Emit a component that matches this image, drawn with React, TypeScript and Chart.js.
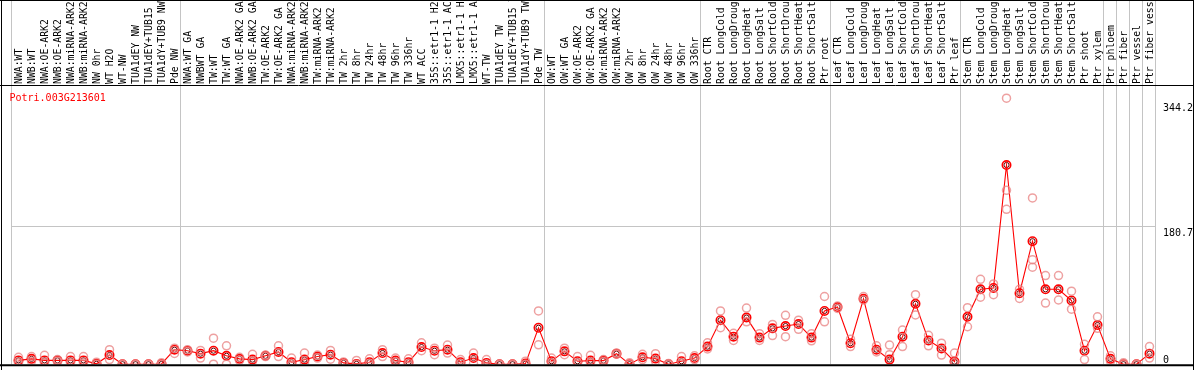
import React, { useEffect, useRef } from 'react';
import { Chart, registerables } from 'chart.js';

Chart.register(...registerables);

const title = 'Potri.003G213601';

const categories = [
  'NWA:WT', 'NWB:WT', 'NWA:OE-ARK2', 'NWB:OE-ARK2', 'NWA:miRNA-ARK2', 'NWB:miRNA-ARK2', 'NW 0hr', 'WT H2O', 'WT-NW',
  'TUA1dEY NW', 'TUA1dEY+TUB15 NW', 'TUA1dY+TUB9 NW', 'Pde NW',
  'NWA:WT GA', 'NWBWT GA', 'TW:WT', 'TW:WT GA', 'NWA:OE-ARK2 GA', 'NWB:OE-ARK2 GA', 'TW:OE-ARK2', 'TW:OE-ARK2 GA',
  'NWA:miRNA-ARK2 GA', 'NWB:miRNA-ARK2 GA', 'TW:miRNA-ARK2', 'TW:miRNA-ARK2', 'TW 2hr', 'TW 8hr', 'TW 24hr', 'TW 48hr',
  'TW 96hr', 'TW 336hr', 'WT ACC', '35S::etr1-1 H2O', '35S::etr1-1 ACC', 'LMX5::etr1-1 H2O', 'LMX5::etr1-1 ACC',
  'WT-TW', 'TUA1dEY TW', 'TUA1dEY+TUB15 TW', 'TUA1dY+TUB9 TW', 'Pde TW',
  'OW:WT', 'OW:WT GA', 'OW:OE-ARK2', 'OW:OE-ARK2 GA', 'OW:miRNA-ARK2', 'OW:miRNA-ARK2', 'OW 2hr', 'OW 8hr', 'OW 24hr',
  'OW 48hr', 'OW 96hr', 'OW 336hr',
  'Root CTR', 'Root LongCold', 'Root LongDrought', 'Root LongHeat', 'Root LongSalt', 'Root ShortCold', 'Root ShortDrought',
  'Root ShortHeat', 'Root ShortSalt', 'Ptr root',
  'Leaf CTR', 'Leaf LongCold', 'Leaf LongDrought', 'Leaf LongHeat', 'Leaf LongSalt', 'Leaf ShortCold', 'Leaf ShortDrought',
  'Leaf ShortHeat', 'Leaf ShortSalt', 'Ptr leaf',
  'Stem CTR', 'Stem LongCold', 'Stem LongDrought', 'Stem LongHeat', 'Stem LongSalt', 'Stem ShortCold', 'Stem ShortDrought',
  'Stem ShortHeat', 'Stem ShortSalt', 'Ptr shoot', 'Ptr xylem',
  'Ptr phloem', 'Ptr fiber', 'Ptr vessel', 'Ptr fiber vessel',
];

const meanValues = [
  5, 7, 5, 5, 5, 5, 0.5, 12, 0, 0, 0, 0.3, 19,
  17.7, 13.8, 17.7, 11, 7, 6, 11, 16, 2.6, 6, 10, 12.5, 1.7, 0.4, 2.6, 14.6, 4.7, 2.6, 22.4, 17.6, 19, 2.6, 8, 1.7, 0, 0, 0.8, 47.7,
  3.9, 16.8, 3.9, 4.7, 4.7, 13.8, 0, 9, 7.3, 0, 3.9, 8,
  23, 57.6, 36, 61, 34.8, 46.9, 49.9, 52.5, 34.8, 69.7,
  74.8, 27.5, 85.6, 19, 6, 36, 79, 31, 20.6, 3.4,
  62, 98, 99.8, 260.6, 92.9, 160.9, 98, 98, 83.4, 17.6, 51.2,
  7, 0, 0, 13.8,
];

const replicateA = [
  9, 10, 11.6, 6, 10, 10, 2.6, 19, 0, 0, 0, 2, 21,
  19, 18, 34, 24, 9, 13, 12, 24, 8, 14.6, 12, 18, 3, 5, 7, 19, 8, 7, 28, 21, 25, 6, 14.6, 6, 0, 0, 4, 69.7,
  8, 21, 10, 11.6, 6, 14.6, 2, 13, 13.8, 1, 10, 11,
  28, 69.7, 40.4, 73.5, 40, 52, 64, 57.6, 40, 88.6,
  76, 32.7, 88.6, 24, 25, 44.7, 91, 37.8, 27.5, 14.6,
  74, 111, 105, 348, 98, 217.6, 116, 116, 95.5, 26, 62,
  11, 2, 0, 23,
];

const replicateB = [
  2, 4, 2, 4, 2, 2, 0, 6, 0, 0, 0, 0, 14,
  16, 8, 0, 0, 5, 4, 10, 10, 0.5, 2, 8, 6.5, 0.5, 0, 1, 10, 3, 1, 17.6, 12.5, 14.6, 1, 0.5, 0, 0, 0, 0, 25.3,
  2, 12.5, 2, 2, 3, 13, 0, 6, 4, 0, 2, 6,
  20, 47.7, 31, 55.5, 31, 37.4, 36, 45.6, 30.6, 55.5,
  73, 23, 84, 16, 12.5, 23, 64.5, 24, 12, 2,
  49, 87.7, 91, 227.5, 86, 136.8, 80, 84, 72, 6, 47,
  4, 0, 0, 8,
];

const replicateC = categories.map((_, i) => (i === 76 ? 202.6 : i === 78 ? 127 : null));

const groupBoundaries = [0, 13, 41, 53, 63, 73, 84, 85, 86, 87, 88];
const yTickValues = [0, 180.7, 344.2];
const yTickLabels = ['0', '180.7', '344.2'];
const gridValues = [180.7];
const yMax = 364;

const MONO = '"DejaVu Sans Mono", "Liberation Mono", monospace';

const decorPlugin = {
  id: 'decor',
  beforeDatasetsDraw(chart: any) {
    const { ctx, chartArea, scales } = chart;
    const xs = scales.x;
    const ys = scales.y;
    ctx.save();
    // group separators
    ctx.strokeStyle = '#c4c4c4';
    ctx.lineWidth = 1;
    groupBoundaries.forEach((b: number) => {
      let x: number;
      if (b === 0) x = chartArea.left;
      else if (b >= categories.length) x = chartArea.right;
      else x = (xs.getPixelForValue(b - 1) + xs.getPixelForValue(b)) / 2;
      x = Math.round(x) - 0.5;
      ctx.beginPath();
      ctx.moveTo(x, 0);
      ctx.lineTo(x, chartArea.bottom);
      ctx.stroke();
    });
    // horizontal grid
    gridValues.forEach((v: number) => {
      const y = Math.round(ys.getPixelForValue(v)) + 0.5;
      ctx.beginPath();
      ctx.moveTo(chartArea.left, y);
      ctx.lineTo(chartArea.right, y);
      ctx.stroke();
    });
    // category labels
    ctx.fillStyle = '#000';
    ctx.font = '9.8px ' + MONO;
    ctx.textAlign = 'left';
    ctx.textBaseline = 'middle';
    categories.forEach((c: string, i: number) => {
      const x = xs.getPixelForValue(i) + 1;
      ctx.save();
      ctx.translate(x, 84);
      ctx.rotate(-Math.PI / 2);
      ctx.fillText(c, 0, 0);
      ctx.restore();
    });
    // y tick labels
    ctx.font = '10px ' + MONO;
    yTickValues.forEach((v: number, k: number) => {
      const y = ys.getPixelForValue(v);
      const ty = v === 0 ? y - 4 : y + 7;
      ctx.fillText(yTickLabels[k], chartArea.right + 7, ty);
    });
    // title
    ctx.fillStyle = '#ff0000';
    ctx.font = '10px ' + MONO;
    ctx.fillText(title, 9.5, 98);
    ctx.restore();
  },
  afterDatasetsDraw(chart: any) {
    const { ctx, chartArea } = chart;
    const W = chart.width;
    const H = chart.height;
    ctx.save();
    ctx.strokeStyle = '#000';
    ctx.lineWidth = 1;
    ctx.beginPath();
    ctx.moveTo(0, 0.5);
    ctx.lineTo(W, 0.5);
    ctx.moveTo(0, 85.5);
    ctx.lineTo(W, 85.5);
    ctx.moveTo(1.5, 0);
    ctx.lineTo(1.5, H);
    ctx.moveTo(W - 0.5, 0);
    ctx.lineTo(W - 0.5, H);
    ctx.stroke();
    ctx.lineWidth = 2;
    ctx.beginPath();
    ctx.moveTo(0, chartArea.bottom + 1);
    ctx.lineTo(W, chartArea.bottom + 1);
    ctx.stroke();
    ctx.restore();
  },
};

export default function App() {
  const canvasRef = useRef<HTMLCanvasElement | null>(null);

  useEffect(() => {
    const canvas = canvasRef.current;
    if (!canvas) return;
    const repStyle = {
      showLine: false,
      pointRadius: 4,
      pointBorderWidth: 1.5,
      pointBorderColor: 'rgba(232,130,130,0.75)',
      pointBackgroundColor: 'rgba(0,0,0,0)',
      borderColor: 'rgba(0,0,0,0)',
      clip: { left: 10, right: 10, top: 10, bottom: 0 },
    };
    const chart = new Chart(canvas, {
      type: 'line',
      data: {
        labels: categories,
        datasets: [
          { ...repStyle, label: 'rep A', data: replicateA },
          { ...repStyle, label: 'rep B', data: replicateB },
          { ...repStyle, label: 'rep C', data: replicateC },
          {
            label: 'mean',
            data: meanValues,
            borderColor: '#ff0000',
            borderWidth: 1.1,
            tension: 0,
            pointRadius: 4.2,
            pointBorderWidth: 1.6,
            pointBorderColor: '#ff0000',
            pointBackgroundColor: 'rgba(0,0,0,0)',
            clip: { left: 10, right: 10, top: 10, bottom: 0 },
          },
          {
            label: 'mean inner',
            data: meanValues,
            showLine: false,
            borderColor: 'rgba(0,0,0,0)',
            pointRadius: 2.6,
            pointBorderWidth: 1,
            pointBorderColor: '#5a0000',
            pointBackgroundColor: 'rgba(0,0,0,0)',
            clip: { left: 10, right: 10, top: 10, bottom: 0 },
          },
        ],
      },
      options: {
        responsive: false,
        animation: false,
        devicePixelRatio: 1,
        layout: { padding: { left: 12, right: 38, top: 86, bottom: 1 } },
        plugins: { legend: { display: false }, tooltip: { enabled: false } },
        scales: {
          x: { type: 'category', offset: true, display: false },
          y: { type: 'linear', min: 0, max: yMax, display: false },
        },
      },
      plugins: [decorPlugin],
    } as any);
    return () => chart.destroy();
  }, []);

  return (
    <div style={{ position: 'absolute', left: 0, top: 0, width: 1194, height: 370, background: '#fff' }}>
      <canvas ref={canvasRef} width={1194} height={370} style={{ display: 'block' }} />
    </div>
  );
}
